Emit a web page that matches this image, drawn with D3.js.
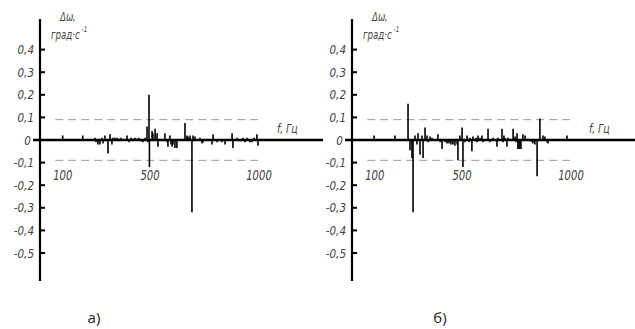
<!DOCTYPE html>
<html>
<head>
<meta charset="utf-8">
<script src="https://cdn.jsdelivr.net/npm/d3@7/dist/d3.min.js"></script>
<style>
  body { margin: 0; background: #fff; }
  svg { display: block; }
  .lbl { font-family: "DejaVu Sans", sans-serif; font-style: italic; fill: #444; }
  .cap { font-family: "Open Sans", sans-serif; fill: #222; font-size: 15px; }
</style>
</head>
<body>
<svg width="635" height="329"></svg>
<script>
// y tick values and labels
let yTicks = [0.4, 0.3, 0.2, 0.1, 0, -0.1, -0.2, -0.3, -0.4, -0.5];
let yTickLabels = ["0,4", "0,3", "0,2", "0,1", "0", "-0,1", "-0,2", "-0,3", "-0,4", "-0,5"];
let xTicks = [100, 500, 1000];
let threshold = 0.09;
let captions = ["а)", "б)"];

// panel a) : frequency (Hz) and deviation
let freqA = [104, 196, 252, 257, 266, 275, 284, 289, 298, 312, 321, 330, 335, 344, 353, 362, 372,
    399, 408, 417, 427, 436, 445, 454, 463, 472, 482, 491, 495, 500, 502, 514, 518, 528, 537, 541,
    573, 583, 587, 596, 601, 606, 610, 619, 628, 665, 674, 679, 688, 697, 702, 711, 734, 743, 748,
    789, 794, 812, 835, 849, 881, 885, 904, 917, 931, 940, 950, 963, 972, 982, 995, 1000];
let valA = [0.02, 0.02, 0.01, -0.01, -0.02, -0.02, 0.01, -0.015, 0.02, -0.06, 0.025, -0.02, 0.01, 0.01, 0.01, 0.005, 0.01,
    0.02, -0.01, 0.01, 0.005, 0.01, 0.005, 0.01, -0.005, -0.01, 0.01, 0.06, -0.01, 0.2, -0.12, 0.04, 0.03, 0.05, 0.03, -0.03,
    0.03, -0.01, -0.03, 0.02, -0.02, -0.03, -0.02, -0.035, -0.035, 0.075, 0.02, 0.015, 0.02, -0.32, 0.02, 0.015, 0.01, -0.015, -0.01,
    -0.02, 0.025, -0.01, -0.01, -0.02, 0.03, -0.035, 0.01, -0.005, 0.01, -0.01, 0.01, -0.01, -0.01, 0.01, 0.025, -0.025];

// panel б)
let freqB = [101, 197, 257, 266, 275, 280, 289, 298, 303, 312, 321, 326, 335, 344, 349, 358, 367,
    394, 404, 413, 427, 436, 445, 454, 463, 472, 482, 486, 495, 505, 509, 518, 528, 537, 541, 550,
    555, 569, 573, 578, 587, 596, 601, 624, 633, 647, 665, 670, 688, 693, 697, 702, 711, 716, 739,
    748, 752, 757, 761, 766, 771, 775, 784, 794, 807, 817, 826, 830, 839, 849, 862, 876, 885, 894, 899, 986];
let valB = [0.02, 0.02, 0.16, -0.045, -0.08, -0.32, 0.02, -0.02, 0.03, -0.065, 0.02, -0.08, 0.055, 0.02, -0.01, 0.015, 0.01,
    0.025, -0.01, -0.04, -0.01, -0.015, -0.015, -0.02, -0.02, -0.025, -0.02, -0.09, 0.02, 0.055, -0.12, -0.01, 0.02, -0.01, 0.01, -0.05,
    0.015, 0.01, -0.01, 0.02, 0.01, 0.02, -0.01, 0.05, -0.01, 0.01, -0.03, 0.01, 0.05, -0.01, 0.02, 0.01, -0.03, 0.01, 0.05,
    0.015, -0.01, 0.03, -0.04, -0.04, -0.04, -0.04, 0.025, 0.02, 0.005, -0.005, -0.01, -0.015, -0.02, -0.16, 0.095, 0.02, 0.015, -0.01, -0.015, 0.02];

let svg = d3.select("svg");

let x = d3.scaleLinear().domain([0, 1000]).range([40, 258]);
let y = d3.scaleLinear().domain([-0.5, 0.4]).range([253, 49.6]);

// narrow drafting-style text: squeeze horizontally around the anchor point
function narrow(px, py, k) {
    return "translate(" + px + "," + py + ") scale(" + (k || 0.72) + ",1)";
}

function drawPanel(offsetX, freqs, vals, caption, capX) {
    let g = svg.append("g").attr("transform", "translate(" + offsetX + ",0)");
    let data = freqs.map(function (f, i) { return { f: f, v: vals[i] }; });

    // threshold dashes
    [threshold, -threshold].forEach(function (t) {
        g.append("line")
            .attr("x1", x(70)).attr("x2", x(1000))
            .attr("y1", y(t)).attr("y2", y(t))
            .attr("stroke", "#9a9a9a").attr("stroke-width", 1)
            .attr("stroke-dasharray", "8,5");
    });

    // bars
    g.selectAll(".bar")
        .data(data)
        .enter().append("line")
        .attr("class", "bar")
        .attr("x1", function (d) { return x(d.f); })
        .attr("x2", function (d) { return x(d.f); })
        .attr("y1", y(0))
        .attr("y2", function (d) { return y(d.v); })
        .attr("stroke", "#000")
        .attr("stroke-width", 1.6);

    // zero line
    g.append("line")
        .attr("x1", x(0) - 7).attr("x2", 323)
        .attr("y1", y(0)).attr("y2", y(0))
        .attr("stroke", "#000").attr("stroke-width", 2.4);

    // vertical axis
    g.append("line")
        .attr("x1", x(0)).attr("x2", x(0))
        .attr("y1", 19).attr("y2", 281)
        .attr("stroke", "#000").attr("stroke-width", 2.2);

    // y ticks
    g.selectAll(".ytick")
        .data(yTicks.filter(function (t) { return t !== 0; }))
        .enter().append("line")
        .attr("x1", x(0)).attr("x2", x(0) + 5)
        .attr("y1", function (d) { return y(d); })
        .attr("y2", function (d) { return y(d); })
        .attr("stroke", "#000").attr("stroke-width", 2);

    g.selectAll(".ylab")
        .data(yTicks)
        .enter().append("text")
        .attr("class", "lbl")
        .attr("transform", function (d) {
            return narrow(d === 0 ? x(0) - 9 : x(0) - 6, y(d) + 4.5, 0.8);
        })
        .attr("text-anchor", "end")
        .attr("font-size", 13)
        .text(function (d, i) { return yTickLabels[i]; });

    g.selectAll(".xlab")
        .data(xTicks)
        .enter().append("text")
        .attr("class", "lbl")
        .attr("transform", function (d) { return narrow(x(d) + 1, 180); })
        .attr("text-anchor", "middle")
        .attr("font-size", 14)
        .text(function (d) { return d; });

    g.append("text").attr("class", "lbl")
        .attr("transform", narrow(x(0) + 20, 21))
        .attr("font-size", 12)
        .text("Δω,");

    let unit = g.append("text").attr("class", "lbl")
        .attr("transform", narrow(x(0) + 11, 39))
        .attr("font-size", 12)
        .text("град·с");
    unit.append("tspan").attr("dy", -7).attr("font-size", 8).text(" -1");

    g.append("text").attr("class", "lbl")
        .attr("transform", narrow(277, 133))
        .attr("font-size", 13)
        .text("f, Гц");

    g.append("text").attr("class", "cap")
        .attr("x", capX).attr("y", 323)
        .attr("text-anchor", "middle")
        .text(caption);
}

drawPanel(0, freqA, valA, captions[0], 94);
drawPanel(312, freqB, valB, captions[1], 128);
</script>
</body>
</html>
